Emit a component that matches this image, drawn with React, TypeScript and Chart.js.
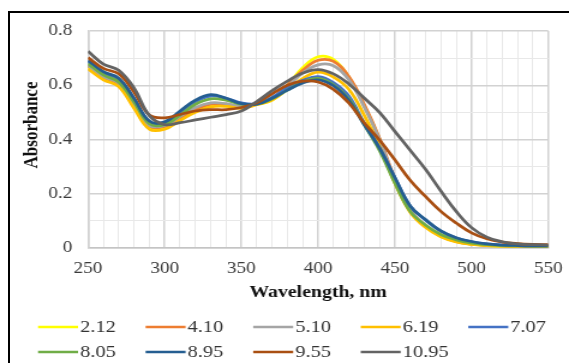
import React, { useEffect, useRef } from "react";
import { Chart, registerables } from "chart.js";

Chart.register(...registerables);

// ---- data ----
const wavelengths = [250, 260, 270, 280, 290, 300, 310, 320, 330, 340, 350, 360, 370, 380, 390, 400, 410, 420, 430, 440, 450, 460, 470, 480, 490, 500, 510, 520, 530, 540, 550];

const seriesLabels = ["2.12", "4.10", "5.10", "6.19", "7.07", "8.05", "8.95", "9.55", "10.95"];

const s212 = [0.668, 0.625, 0.600, 0.525, 0.443, 0.443, 0.475, 0.505, 0.528, 0.528, 0.520, 0.530, 0.545, 0.600, 0.665, 0.705, 0.695, 0.630, 0.525, 0.400, 0.245, 0.135, 0.078, 0.042, 0.023, 0.014, 0.009, 0.007, 0.006, 0.005, 0.005];
const s410 = [0.672, 0.630, 0.605, 0.530, 0.450, 0.448, 0.480, 0.510, 0.530, 0.530, 0.520, 0.530, 0.550, 0.600, 0.655, 0.692, 0.688, 0.632, 0.530, 0.405, 0.255, 0.140, 0.080, 0.044, 0.024, 0.015, 0.010, 0.008, 0.007, 0.006, 0.006];
const s510 = [0.672, 0.632, 0.608, 0.532, 0.452, 0.452, 0.485, 0.518, 0.535, 0.532, 0.522, 0.530, 0.550, 0.595, 0.645, 0.675, 0.672, 0.620, 0.520, 0.400, 0.250, 0.140, 0.080, 0.044, 0.024, 0.015, 0.010, 0.008, 0.007, 0.006, 0.006];
const s619 = [0.660, 0.620, 0.595, 0.515, 0.438, 0.438, 0.470, 0.500, 0.520, 0.522, 0.515, 0.528, 0.545, 0.585, 0.625, 0.648, 0.630, 0.585, 0.490, 0.375, 0.240, 0.132, 0.076, 0.041, 0.022, 0.013, 0.009, 0.007, 0.006, 0.005, 0.005];
const s707 = [0.688, 0.645, 0.622, 0.550, 0.465, 0.462, 0.500, 0.540, 0.560, 0.552, 0.535, 0.532, 0.555, 0.590, 0.618, 0.632, 0.610, 0.560, 0.460, 0.370, 0.260, 0.155, 0.103, 0.062, 0.037, 0.023, 0.015, 0.011, 0.009, 0.008, 0.008];
const s805 = [0.680, 0.638, 0.612, 0.538, 0.458, 0.455, 0.490, 0.530, 0.550, 0.545, 0.530, 0.530, 0.550, 0.582, 0.612, 0.625, 0.602, 0.550, 0.455, 0.360, 0.240, 0.135, 0.085, 0.050, 0.030, 0.018, 0.012, 0.009, 0.008, 0.007, 0.007];
const s895 = [0.692, 0.650, 0.626, 0.552, 0.468, 0.465, 0.505, 0.545, 0.565, 0.552, 0.532, 0.530, 0.552, 0.582, 0.608, 0.620, 0.598, 0.545, 0.455, 0.368, 0.260, 0.155, 0.105, 0.063, 0.038, 0.024, 0.015, 0.011, 0.009, 0.008, 0.008];
const s955 = [0.702, 0.662, 0.642, 0.575, 0.490, 0.480, 0.492, 0.505, 0.510, 0.510, 0.518, 0.535, 0.568, 0.600, 0.615, 0.612, 0.585, 0.535, 0.462, 0.398, 0.325, 0.250, 0.190, 0.135, 0.092, 0.056, 0.034, 0.022, 0.016, 0.013, 0.012];
const s1095 = [0.725, 0.678, 0.655, 0.590, 0.488, 0.455, 0.462, 0.472, 0.482, 0.492, 0.505, 0.540, 0.580, 0.615, 0.645, 0.658, 0.642, 0.605, 0.553, 0.500, 0.430, 0.360, 0.290, 0.210, 0.135, 0.075, 0.040, 0.023, 0.015, 0.012, 0.011];

const seriesValues = [s212, s410, s510, s619, s707, s805, s895, s955, s1095];
const seriesColors = ["#FFFF00", "#ED7D31", "#A5A5A5", "#FFC000", "#4472C4", "#70AD47", "#255E91", "#A94F12", "#636363"];

const xTitle = "Wavelength, nm";
const yTitle = "Absorbance";

// ---- layout (canvas backing is narrower and stretched horizontally, like the reference) ----
const W = 474;
const H = 363;
const SERIF = '"Liberation Serif", "Times New Roman", serif';
const MAJOR = "#D2D2D2";
const MINOR = "#E8E8E8";

const overlay = {
  id: "overlay",
  afterDraw(chart: any) {
    const ctx = chart.ctx as CanvasRenderingContext2D;
    const a = chart.chartArea;
    // y title
    ctx.save();
    ctx.fillStyle = "#111";
    ctx.font = `bold 17px ${SERIF}`;
    ctx.textAlign = "center";
    ctx.textBaseline = "middle";
    ctx.translate(26.7, 125);
    ctx.rotate(-Math.PI / 2);
    ctx.fillText(yTitle, 0, 0);
    ctx.restore();
    // x title
    ctx.save();
    ctx.fillStyle = "#111";
    ctx.font = `bold 16.5px ${SERIF}`;
    ctx.textAlign = "center";
    ctx.textBaseline = "alphabetic";
    ctx.fillText(xTitle, (a.left + a.right) / 2, 297);
    ctx.restore();
    // legend (grid of 5 columns)
    ctx.save();
    ctx.font = `17px ${SERIF}`;
    ctx.textAlign = "left";
    ctx.textBaseline = "middle";
    const ds = chart.data.datasets;
    for (let i = 0; i < ds.length; i++) {
      const col = i % 5;
      const row = Math.floor(i / 5);
      const x0 = 31.7 + col * 89.6;
      const y = row === 0 ? 327 : 352;
      ctx.strokeStyle = ds[i].borderColor;
      ctx.lineWidth = 2.5;
      ctx.beginPath();
      ctx.moveTo(x0, y);
      ctx.lineTo(x0 + 33.3, y);
      ctx.stroke();
      ctx.fillStyle = "#333";
      ctx.fillText(ds[i].label, x0 + 35, y + 1);
    }
    ctx.restore();
  },
};

export default function App() {
  const ref = useRef<HTMLCanvasElement | null>(null);

  useEffect(() => {
    if (!ref.current) return;
    const datasets = seriesLabels.map((label, i) => ({
      label,
      data: wavelengths.map((x, j) => ({ x, y: seriesValues[i][j] })),
      borderColor: seriesColors[i],
      backgroundColor: seriesColors[i],
      borderWidth: 2.75,
      pointRadius: 0,
      tension: 0.4,
      fill: false,
      order: seriesLabels.length - i,
    }));

    const chart = new Chart(ref.current, {
      type: "line",
      data: { datasets },
      plugins: [overlay],
      options: {
        responsive: false,
        devicePixelRatio: 1,
        animation: false,
        layout: { padding: { top: 31, right: 17.3, left: 0, bottom: 0 } },
        plugins: {
          legend: { display: false },
          tooltip: { enabled: false },
          title: { display: false },
        },
        scales: {
          x: {
            type: "linear",
            min: 250,
            max: 550,
            afterFit: (s: any) => {
              s.height = 115;
              s.paddingLeft = 0;
              s.paddingRight = 0;
            },
            ticks: {
              stepSize: 10,
              autoSkip: false,
              maxRotation: 0,
              padding: 11,
              color: "#3a3a3a",
              font: { family: SERIF, size: 16 },
              callback: (v: any) => (Number(v) % 50 === 0 ? String(v) : ""),
            },
            grid: {
              drawTicks: false,
              color: (c: any) => (c.tick && c.tick.value % 50 === 0 ? MAJOR : MINOR),
              lineWidth: (c: any) => (c.tick && c.tick.value % 50 === 0 ? 1.5 : 1),
            },
            border: { display: true, color: "#C4C4C4", width: 1.5 },
          },
          y: {
            type: "linear",
            min: 0,
            max: 0.8,
            afterFit: (s: any) => {
              s.width = 73.3;
              s.paddingTop = 0;
              s.paddingBottom = 0;
            },
            ticks: {
              stepSize: 0.1,
              autoSkip: false,
              padding: 13,
              color: "#3a3a3a",
              font: { family: SERIF, size: 16 },
              callback: (v: any) => {
                const n = Math.round(Number(v) * 10);
                if (n % 2 !== 0) return "";
                return n === 0 ? "0" : (n / 10).toFixed(1);
              },
            },
            grid: {
              drawTicks: false,
              color: (c: any) => (c.tick && Math.round(c.tick.value * 10) % 2 === 0 ? MAJOR : MINOR),
              lineWidth: (c: any) => (c.tick && Math.round(c.tick.value * 10) % 2 === 0 ? 1.5 : 1),
            },
            border: { display: true, color: MAJOR, width: 1.5 },
          },
        },
      },
    } as any);

    return () => chart.destroy();
  }, []);

  return (
    <div
      style={{
        position: "fixed",
        left: 0,
        top: 0,
        width: 569,
        height: 363,
        background: "#fff",
        overflow: "hidden",
      }}
    >
      <canvas
        ref={ref}
        width={W}
        height={H}
        style={{ position: "absolute", left: 0, top: 0, width: "569px", height: "363px" }}
      />
      <div
        style={{
          position: "absolute",
          left: 8,
          top: 11,
          width: 620,
          height: 420,
          border: "2px solid #000",
          boxSizing: "border-box",
          pointerEvents: "none",
        }}
      />
    </div>
  );
}
